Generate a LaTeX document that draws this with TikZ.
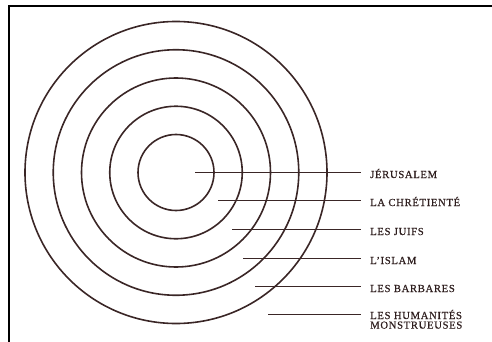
\documentclass[tikz,border=0pt]{standalone}
\usepackage{fontspec}
\setmainfont{Liberation Serif}
\newfontfamily\ringfont[LetterSpace=6,FakeBold=0.4]{Liberation Serif}
\usetikzlibrary{positioning}
\definecolor{ink}{HTML}{3A2626}

\begin{document}
\begin{tikzpicture}[x=1pt, y=-1pt,
  ring/.style={draw=ink, line width=1.6pt},
  lead/.style={draw=ink, line width=1.5pt},
  lab/.style={anchor=base west, inner xsep=9pt, inner ysep=0pt, align=left,
              text=ink!80!black, font=\fontsize{10.7}{9.6}\ringfont}]
\useasboundingbox (0,0) rectangle (492,342);
\draw[line width=2pt] (9,342) -- (9,6.5) -- (492,6.5);
% concentric rings
\coordinate (c) at (176,172.5);
\foreach \r in {38,66.25,94.5,122.75,151}
  \draw[ring] (c) circle[radius=\r pt];
% leader starts
\coordinate (s1) at (195,172.5);
\coordinate (s2) at (218,200.5);
\coordinate (s3) at (232,229.5);
\coordinate (s4) at (243,258.5);
\coordinate (s5) at (255,286.5);
\coordinate (s6) at (268,314.5);
% labels
\node[lab] (l1) at (361,178) {JÉRUSALEM};
\node[lab] (l2) at (361,206) {LA CHRÉTIENTÉ};
\node[lab] (l3) at (361,235) {LES JUIFS};
\node[lab] (l4) at (361,264) {L’ISLAM};
\node[lab] (l5) at (361,292) {LES BARBARES};
\node[lab] (l6) at (361,328.6) {LES HUMANITÉS\\MONSTRUEUSES};
\foreach \i in {1,...,6}
  \draw[lead] (s\i) -- (s\i -| l\i.west);
\end{tikzpicture}
\end{document}
